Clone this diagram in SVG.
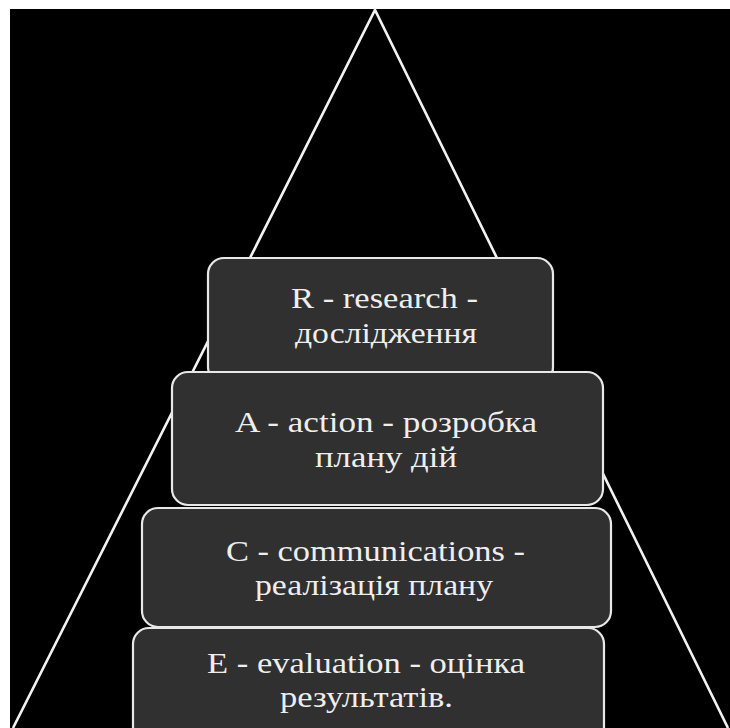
<svg xmlns="http://www.w3.org/2000/svg" width="730" height="728" viewBox="0 0 730 728">
  <style>
    .box { fill: #303030; stroke: #e8e8e8; stroke-width: 2.2; }
    .lbl { font-family: "Liberation Serif", "Times New Roman", serif; font-size: 29px; fill: #eeeeee; }
    .tri { fill: none; stroke: #f2f2f2; stroke-width: 2.6; }
  </style>
  <rect x="0" y="0" width="730" height="728" fill="#ffffff"/>
  <rect x="10" y="9" width="720" height="719" fill="#000000"/>
  <g id="pyramid">
    <polyline class="tri" points="13,728 375,10 728,728"/>
  </g>
  <g id="node-R">
    <rect class="box" x="208" y="258" width="345" height="125" rx="16" ry="16"/>
    <text class="lbl" x="291" y="308" textLength="187" lengthAdjust="spacingAndGlyphs">R - research -</text>
    <text class="lbl" x="295" y="343" textLength="182" lengthAdjust="spacingAndGlyphs">дослідження</text>
  </g>
  <g id="node-A">
    <rect class="box" x="172" y="372" width="431" height="133" rx="16" ry="16"/>
    <text class="lbl" x="235" y="432" textLength="302" lengthAdjust="spacingAndGlyphs">A - action - розробка</text>
    <text class="lbl" x="315" y="467" textLength="142" lengthAdjust="spacingAndGlyphs">плану дій</text>
  </g>
  <g id="node-C">
    <rect class="box" x="142" y="508" width="469" height="119" rx="16" ry="16"/>
    <text class="lbl" x="226" y="561" textLength="299" lengthAdjust="spacingAndGlyphs">C - communications -</text>
    <text class="lbl" x="255" y="595" textLength="238" lengthAdjust="spacingAndGlyphs">реалізація плану</text>
  </g>
  <g id="node-E">
    <rect class="box" x="133" y="628" width="471" height="115" rx="16" ry="16"/>
    <text class="lbl" x="207" y="673" textLength="318" lengthAdjust="spacingAndGlyphs">E - evaluation - оцінка</text>
    <text class="lbl" x="280" y="707" textLength="173" lengthAdjust="spacingAndGlyphs">результатів.</text>
  </g>
  <g id="connectors"/>
</svg>
